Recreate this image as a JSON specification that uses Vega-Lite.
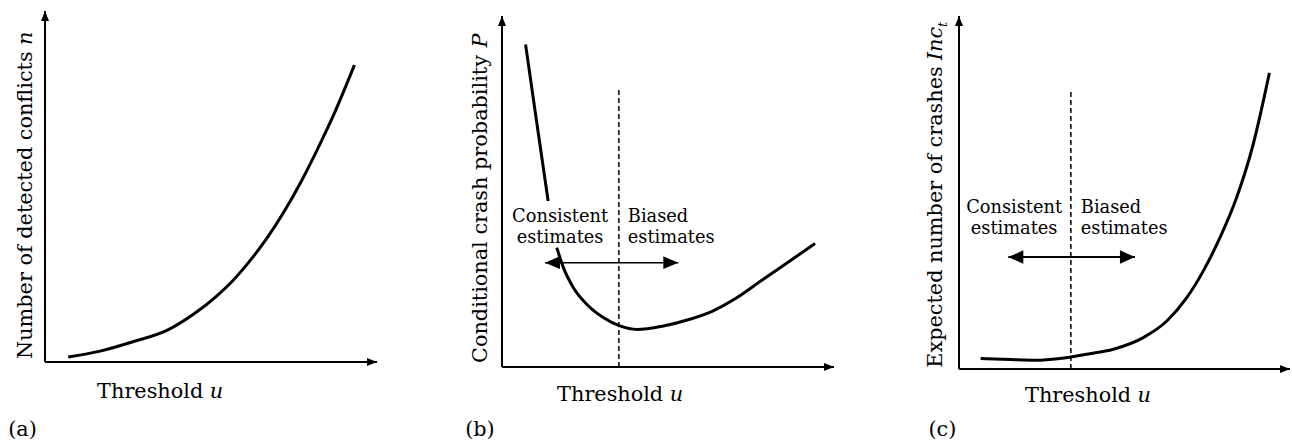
{
  "$schema": "https://vega.github.io/schema/vega-lite/v6.json",
  "padding": {"left": 8, "top": 10, "right": 0, "bottom": 0},
  "bounds": "flush",
  "spacing": 125,
  "config": {"view": {"stroke": null}, "font": "DejaVu Serif", "text": {"color": "black", "font": "DejaVu Serif"}},
  "hconcat": [
    {
      "width": 332, "height": 360,
      "encoding": {
        "x": {"field": "x", "type": "quantitative", "scale": {"domain": [0, 100], "nice": false, "zero": false}, "axis": null},
        "y": {"field": "y", "type": "quantitative", "scale": {"domain": [-2.56, 100], "nice": false, "zero": false}, "axis": null}
      },
      "layer": [
        {"data": {"values": [{"x": 0, "y": 0, "xend": 100, "yend": 100}]}, "mark": {"type": "rule", "strokeWidth": 2, "color": "black"}, "encoding": {"x2": {"field": "xend"}}},
        {"data": {"values": [{"x": 0, "y": 0, "xend": 100, "yend": 100}]}, "mark": {"type": "rule", "strokeWidth": 2, "color": "black"}, "encoding": {"y2": {"field": "yend"}}},
        {"data": {"values": [{"x": 0, "y": 0, "xend": 100, "yend": 100}]}, "mark": {"type": "point", "shape": "M0,0L-2,-0.8L-2,0.8Z", "size": 100, "filled": true, "opacity": 1, "color": "black", "strokeWidth": 0}, "encoding": {"x": {"field": "xend", "type": "quantitative"}}},
        {"data": {"values": [{"x": 0, "y": 0, "xend": 100, "yend": 100}]}, "mark": {"type": "point", "shape": "M0,0L-0.8,2L0.8,2Z", "size": 100, "filled": true, "opacity": 1, "color": "black", "strokeWidth": 0}, "encoding": {"y": {"field": "yend", "type": "quantitative"}}},
        {
          "data": {"values": [
            {"x": 7.0, "y": 1.4}, {"x": 16.6, "y": 3.1}, {"x": 26.6, "y": 5.8}, {"x": 36.7, "y": 9.0},
            {"x": 44.7, "y": 13.6}, {"x": 51.7, "y": 18.8}, {"x": 56.7, "y": 23.3}, {"x": 61.7, "y": 28.8},
            {"x": 66.8, "y": 35.2}, {"x": 71.8, "y": 42.5}, {"x": 76.8, "y": 50.8}, {"x": 81.8, "y": 60.1},
            {"x": 86.8, "y": 70.1}, {"x": 93.2, "y": 84.6}
          ]},
          "mark": {"type": "line", "interpolate": "monotone", "strokeWidth": 3, "color": "black"},
          "encoding": {}
        },
        {"data": {"values": [{"x": 15.7, "y": -10.3, "text": "Threshold"}, {"x": -11.1, "y": -21.1, "text": "(a)"}]}, "mark": {"type": "text", "font": "DejaVu Serif", "align": "left", "baseline": "alphabetic", "fontSize": 20.8}, "encoding": {"text": {"field": "text"}}},
        {"data": {"values": [{"x": 49.6, "y": -10.3, "text": "u"}]}, "mark": {"type": "text", "font": "DejaVu Serif", "align": "left", "baseline": "alphabetic", "fontSize": 20.8, "fontStyle": "italic"}, "encoding": {"text": {"field": "text"}}},
        {"data": {"values": [{"x": -3.9, "y": 0.85, "text": "Number of detected conflicts"}]}, "mark": {"type": "text", "font": "DejaVu Serif", "align": "left", "baseline": "alphabetic", "fontSize": 20.8, "angle": 270}, "encoding": {"text": {"field": "text"}}},
        {"data": {"values": [{"x": -3.9, "y": 90.3, "text": "n"}]}, "mark": {"type": "text", "font": "DejaVu Serif", "align": "left", "baseline": "alphabetic", "fontSize": 20.8, "angle": 270, "fontStyle": "italic"}, "encoding": {"text": {"field": "text"}}}
      ]
    },
    {
      "width": 332, "height": 360,
      "encoding": {
        "x": {"field": "x", "type": "quantitative", "scale": {"domain": [0, 100], "nice": false, "zero": false}, "axis": null},
        "y": {"field": "y", "type": "quantitative", "scale": {"domain": [-1.14, 101.42], "nice": false, "zero": false}, "axis": null}
      },
      "layer": [
        {"data": {"values": [{"x": 0, "y": 0, "xend": 100, "yend": 100}]}, "mark": {"type": "rule", "strokeWidth": 2, "color": "black"}, "encoding": {"x2": {"field": "xend"}}},
        {"data": {"values": [{"x": 0, "y": 0, "xend": 100, "yend": 100}]}, "mark": {"type": "rule", "strokeWidth": 2, "color": "black"}, "encoding": {"y2": {"field": "yend"}}},
        {"data": {"values": [{"x": 0, "y": 0, "xend": 100, "yend": 100}]}, "mark": {"type": "point", "shape": "M0,0L-2,-0.8L-2,0.8Z", "size": 100, "filled": true, "opacity": 1, "color": "black", "strokeWidth": 0}, "encoding": {"x": {"field": "xend", "type": "quantitative"}}},
        {"data": {"values": [{"x": 0, "y": 0, "xend": 100, "yend": 100}]}, "mark": {"type": "point", "shape": "M0,0L-0.8,2L0.8,2Z", "size": 100, "filled": true, "opacity": 1, "color": "black", "strokeWidth": 0}, "encoding": {"y": {"field": "yend", "type": "quantitative"}}},
        {"data": {"values": [{"x": 35.2, "y": 0, "yend": 79.2}]}, "mark": {"type": "rule", "strokeWidth": 1.5, "strokeDash": [5, 3], "color": "black"}, "encoding": {"y2": {"field": "yend"}}},
        {
          "data": {"values": [
            {"x": 7.1, "y": 91.9, "seg": 1}, {"x": 10.4, "y": 70.1, "seg": 1}, {"x": 13.9, "y": 47.3, "seg": 1},
            {"x": 16.5, "y": 34.0, "seg": 2}, {"x": 18.5, "y": 28.3, "seg": 2}, {"x": 21.5, "y": 22.6, "seg": 2},
            {"x": 25.5, "y": 17.9, "seg": 2}, {"x": 30.5, "y": 14.1, "seg": 2}, {"x": 35.5, "y": 11.7, "seg": 2},
            {"x": 40.6, "y": 10.7, "seg": 2}, {"x": 48.6, "y": 11.7, "seg": 2}, {"x": 56.6, "y": 13.6, "seg": 2},
            {"x": 63.6, "y": 16.0, "seg": 2}, {"x": 70.7, "y": 19.7, "seg": 2}, {"x": 78.7, "y": 25.0, "seg": 2},
            {"x": 86.7, "y": 30.2, "seg": 2}, {"x": 94.3, "y": 35.2, "seg": 2}
          ]},
          "mark": {"type": "line", "interpolate": "monotone", "strokeWidth": 3, "color": "black"},
          "encoding": {"detail": {"field": "seg", "type": "nominal"}}
        },
        {"data": {"values": [{"x": 12.95, "xend": 53.1, "y": 29.7}]}, "mark": {"type": "rule", "strokeWidth": 1.3, "color": "black"}, "encoding": {"x2": {"field": "xend"}}},
        {"data": {"values": [{"x": 12.95, "xend": 53.1, "y": 29.7}]}, "mark": {"type": "point", "shape": "M0,0L2,-0.85L2,0.85Z", "size": 225, "filled": true, "opacity": 1, "color": "black", "strokeWidth": 0}, "encoding": {}},
        {"data": {"values": [{"x": 12.95, "xend": 53.1, "y": 29.7}]}, "mark": {"type": "point", "shape": "M0,0L-2,-0.85L-2,0.85Z", "size": 225, "filled": true, "opacity": 1, "color": "black", "strokeWidth": 0}, "encoding": {"x": {"field": "xend", "type": "quantitative"}}},
        {"data": {"values": [{"x": 16.6, "y": -9.7, "text": "Threshold"}, {"x": -11.1, "y": -19.7, "text": "(b)"}]}, "mark": {"type": "text", "font": "DejaVu Serif", "align": "left", "baseline": "alphabetic", "fontSize": 20.8}, "encoding": {"text": {"field": "text"}}},
        {"data": {"values": [{"x": 50.5, "y": -9.7, "text": "u"}]}, "mark": {"type": "text", "font": "DejaVu Serif", "align": "left", "baseline": "alphabetic", "fontSize": 20.8, "fontStyle": "italic"}, "encoding": {"text": {"field": "text"}}},
        {"data": {"values": [{"x": -4.5, "y": 1.14, "text": "Conditional crash probability"}]}, "mark": {"type": "text", "font": "DejaVu Serif", "align": "left", "baseline": "alphabetic", "fontSize": 20.8, "angle": 270}, "encoding": {"text": {"field": "text"}}},
        {"data": {"values": [{"x": -4.5, "y": 91.0, "text": "P"}]}, "mark": {"type": "text", "font": "DejaVu Serif", "align": "left", "baseline": "alphabetic", "fontSize": 20.8, "angle": 270, "fontStyle": "italic"}, "encoding": {"text": {"field": "text"}}},
        {"data": {"values": [{"x": 17.5, "y": 41.3, "text": ["Consistent", "estimates"]}]}, "mark": {"type": "text", "font": "DejaVu Serif", "align": "center", "baseline": "alphabetic", "fontSize": 17.8, "lineHeight": 21}, "encoding": {"text": {"field": "text"}}},
        {"data": {"values": [{"x": 37.9, "y": 41.3, "text": ["Biased", "estimates"]}]}, "mark": {"type": "text", "font": "DejaVu Serif", "align": "left", "baseline": "alphabetic", "fontSize": 17.8, "lineHeight": 21}, "encoding": {"text": {"field": "text"}}}
      ]
    },
    {
      "width": 332, "height": 360,
      "encoding": {
        "x": {"field": "x", "type": "quantitative", "scale": {"domain": [0, 100], "nice": false, "zero": false}, "axis": null},
        "y": {"field": "y", "type": "quantitative", "scale": {"domain": [-0.57, 101.42], "nice": false, "zero": false}, "axis": null}
      },
      "layer": [
        {"data": {"values": [{"x": 0, "y": 0, "xend": 99.7, "yend": 100}]}, "mark": {"type": "rule", "strokeWidth": 2, "color": "black"}, "encoding": {"x2": {"field": "xend"}}},
        {"data": {"values": [{"x": 0, "y": 0, "xend": 99.7, "yend": 100}]}, "mark": {"type": "rule", "strokeWidth": 2, "color": "black"}, "encoding": {"y2": {"field": "yend"}}},
        {"data": {"values": [{"x": 0, "y": 0, "xend": 99.7, "yend": 100}]}, "mark": {"type": "point", "shape": "M0,0L-2,-0.8L-2,0.8Z", "size": 100, "filled": true, "opacity": 1, "color": "black", "strokeWidth": 0}, "encoding": {"x": {"field": "xend", "type": "quantitative"}}},
        {"data": {"values": [{"x": 0, "y": 0, "xend": 99.7, "yend": 100}]}, "mark": {"type": "point", "shape": "M0,0L-0.8,2L0.8,2Z", "size": 100, "filled": true, "opacity": 1, "color": "black", "strokeWidth": 0}, "encoding": {"y": {"field": "yend", "type": "quantitative"}}},
        {"data": {"values": [{"x": 33.7, "y": 0, "yend": 78.5}]}, "mark": {"type": "rule", "strokeWidth": 1.5, "strokeDash": [5, 3], "color": "black"}, "encoding": {"y2": {"field": "yend"}}},
        {
          "data": {"values": [
            {"x": 6.5, "y": 3.0}, {"x": 15.4, "y": 2.7}, {"x": 23.4, "y": 2.5}, {"x": 30.4, "y": 3.0},
            {"x": 38.5, "y": 4.2}, {"x": 46.5, "y": 5.6}, {"x": 55.5, "y": 8.9}, {"x": 62.6, "y": 13.6},
            {"x": 68.6, "y": 20.2}, {"x": 73.6, "y": 27.8}, {"x": 78.6, "y": 37.2}, {"x": 83.6, "y": 48.5},
            {"x": 88.6, "y": 63.6}, {"x": 93.5, "y": 83.9}
          ]},
          "mark": {"type": "line", "interpolate": "monotone", "strokeWidth": 3, "color": "black"},
          "encoding": {}
        },
        {"data": {"values": [{"x": 14.85, "xend": 53.0, "y": 31.7}]}, "mark": {"type": "rule", "strokeWidth": 2, "color": "black"}, "encoding": {"x2": {"field": "xend"}}},
        {"data": {"values": [{"x": 14.85, "xend": 53.0, "y": 31.7}]}, "mark": {"type": "point", "shape": "M0,0L2,-0.9L2,0.9Z", "size": 225, "filled": true, "opacity": 1, "color": "black", "strokeWidth": 0}, "encoding": {}},
        {"data": {"values": [{"x": 14.85, "xend": 53.0, "y": 31.7}]}, "mark": {"type": "point", "shape": "M0,0L-2,-0.9L-2,0.9Z", "size": 225, "filled": true, "opacity": 1, "color": "black", "strokeWidth": 0}, "encoding": {"x": {"field": "xend", "type": "quantitative"}}},
        {"data": {"values": [{"x": 19.9, "y": -9.35, "text": "Threshold"}, {"x": -9.2, "y": -19.0, "text": "(c)"}]}, "mark": {"type": "text", "font": "DejaVu Serif", "align": "left", "baseline": "alphabetic", "fontSize": 20.8}, "encoding": {"text": {"field": "text"}}},
        {"data": {"values": [{"x": 53.8, "y": -9.35, "text": "u"}]}, "mark": {"type": "text", "font": "DejaVu Serif", "align": "left", "baseline": "alphabetic", "fontSize": 20.8, "fontStyle": "italic"}, "encoding": {"text": {"field": "text"}}},
        {"data": {"values": [{"x": -5.1, "y": 0.37, "text": "Expected number of crashes"}]}, "mark": {"type": "text", "font": "DejaVu Serif", "align": "left", "baseline": "alphabetic", "fontSize": 20.8, "angle": 270}, "encoding": {"text": {"field": "text"}}},
        {"data": {"values": [{"x": -5.1, "y": 87.5, "text": "Inc"}]}, "mark": {"type": "text", "font": "DejaVu Serif", "align": "left", "baseline": "alphabetic", "fontSize": 20.8, "angle": 270, "fontStyle": "italic"}, "encoding": {"text": {"field": "text"}}},
        {"data": {"values": [{"x": -3.6, "y": 96.9, "text": "t"}]}, "mark": {"type": "text", "font": "DejaVu Serif", "align": "left", "baseline": "alphabetic", "fontSize": 13, "angle": 270, "fontStyle": "italic"}, "encoding": {"text": {"field": "text"}}},
        {"data": {"values": [{"x": 16.6, "y": 44.3, "text": ["Consistent", "estimates"]}]}, "mark": {"type": "text", "font": "DejaVu Serif", "align": "center", "baseline": "alphabetic", "fontSize": 17.8, "lineHeight": 21.6}, "encoding": {"text": {"field": "text"}}},
        {"data": {"values": [{"x": 36.7, "y": 44.3, "text": ["Biased", "estimates"]}]}, "mark": {"type": "text", "font": "DejaVu Serif", "align": "left", "baseline": "alphabetic", "fontSize": 17.8, "lineHeight": 21.6}, "encoding": {"text": {"field": "text"}}}
      ]
    }
  ]
}
